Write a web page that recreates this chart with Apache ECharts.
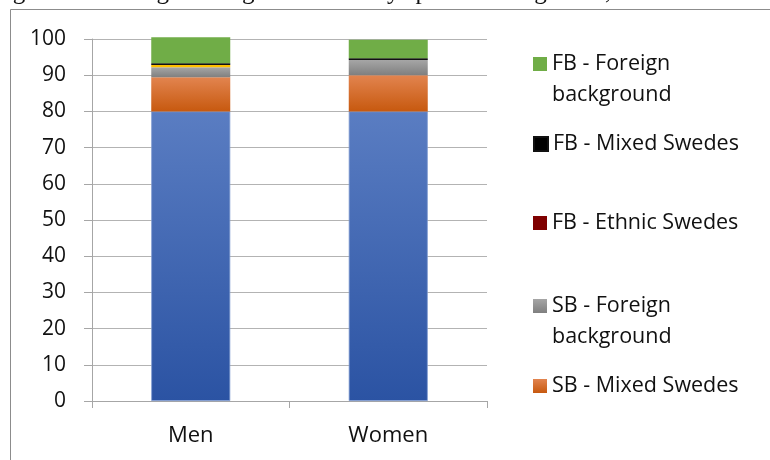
<!DOCTYPE html>
<html>
<head>
<meta charset="utf-8">
<script src="https://cdn.jsdelivr.net/npm/echarts@6/dist/echarts.min.js"></script>
<style>
html,body{margin:0;padding:0;background:#fff;}
#chart{width:770px;height:460px;}
</style>
</head>
<body>
<div id="chart"></div>
<script>
var categories = ['Men', 'Women'];
var yTicks = [0, 10, 20, 30, 40, 50, 60, 70, 80, 90, 100];
var sbEthnic = [80, 80];
var sbMixed = [9.4, 10];
var sbForeign = [2.8, 4.2];
var otherSeg = [0.6, 0];
var fbEthnic = [0, 0];
var fbMixed = [0.5, 0.5];
var fbForeign = [7.2, 5.1];
var caption = 'Figure 4. Marriage among all Swedes by spousal background,';

var FONT = '"Open Sans"';
function vgrad(top, bottom) {
  return new echarts.graphic.LinearGradient(0, 0, 0, 1, [
    {offset: 0, color: top}, {offset: 1, color: bottom}
  ]);
}
var chart = echarts.init(document.getElementById('chart'), null, {renderer: 'canvas'});

function legendAt(name, top, twoLine) {
  return {
    data: [name],
    orient: 'vertical',
    left: 528,
    top: top,
    itemWidth: 14,
    itemHeight: 14,
    selectedMode: false,
    icon: 'rect',
    formatter: function (n) {
      if (twoLine) {
        return ' \n' + n.replace(' background', '\nbackground');
      }
      return n;
    },
    textStyle: {fontFamily: FONT, fontSize: 21.5, color: '#111', lineHeight: 31}
  };
}

var option = {
  animation: false,
  backgroundColor: '#fff',
  graphic: [
    {type: 'rect', shape: {x: 10.5, y: 9.5, width: 900, height: 600}, style: {fill: 'none', stroke: '#8c8c8c', lineWidth: 1}, silent: true},
    {type: 'text', left: -8, top: -20, style: {text: caption, font: '25px "Liberation Serif"', fill: '#111'}, silent: true}
  ],
  legend: [
    legendAt('FB - Foreign background', 59 - 46.5, true),
    legendAt('FB - Mixed Swedes', 139 - 15.5, false),
    legendAt('FB - Ethnic Swedes', 218 - 15.5, false),
    legendAt('SB - Foreign background', 301 - 46.5, true),
    legendAt('SB - Mixed Swedes', 381 - 15.5, false)
  ],
  grid: {left: 92, right: 283, top: 39, bottom: 59, containLabel: false},
  xAxis: {
    type: 'category',
    data: categories,
    axisLine: {lineStyle: {color: '#a6a6a6', width: 1}},
    axisTick: {show: true, length: 7, lineStyle: {color: '#a6a6a6'}},
    axisLabel: {fontFamily: FONT, fontSize: 22, color: '#111', margin: 24}
  },
  yAxis: {
    type: 'value',
    min: 0, max: 100, interval: 10,
    axisLine: {show: true, lineStyle: {color: '#a6a6a6', width: 1}},
    axisTick: {show: true, length: 8, lineStyle: {color: '#a6a6a6'}},
    splitLine: {lineStyle: {color: '#b3b3b3', width: 1}},
    axisLabel: {fontFamily: FONT, fontSize: 21, color: '#111', margin: 26,
      formatter: function (v) { return yTicks.indexOf(v) >= 0 ? String(v) : ''; }}
  },
  series: [
    {name: 'SB - Ethnic Swedes', type: 'bar', stack: 'a', barWidth: '40%', clip: false, data: sbEthnic,
      itemStyle: {color: vgrad('#5a7dc2', '#2b53a3'), borderColor: '#7d99d1', borderWidth: 0.8}},
    {name: 'SB - Mixed Swedes', type: 'bar', stack: 'a', clip: false, data: sbMixed,
      itemStyle: {color: vgrad('#e2844f', '#c7590f')}},
    {name: 'SB - Foreign background', type: 'bar', stack: 'a', clip: false, data: sbForeign,
      itemStyle: {color: vgrad('#a6a6a6', '#7f7f7f')}},
    {name: 'Other', type: 'bar', stack: 'a', clip: false, data: otherSeg,
      itemStyle: {color: '#ffc000'}},
    {name: 'FB - Ethnic Swedes', type: 'bar', stack: 'a', clip: false, data: fbEthnic,
      itemStyle: {color: '#7f0000'}},
    {name: 'FB - Mixed Swedes', type: 'bar', stack: 'a', clip: false, data: fbMixed,
      itemStyle: {color: '#000', borderColor: '#111', borderWidth: 1.2}},
    {name: 'FB - Foreign background', type: 'bar', stack: 'a', clip: false, data: fbForeign,
      itemStyle: {color: '#70ad47'}}
  ]
};
chart.setOption(option);
</script>
</body>
</html>
